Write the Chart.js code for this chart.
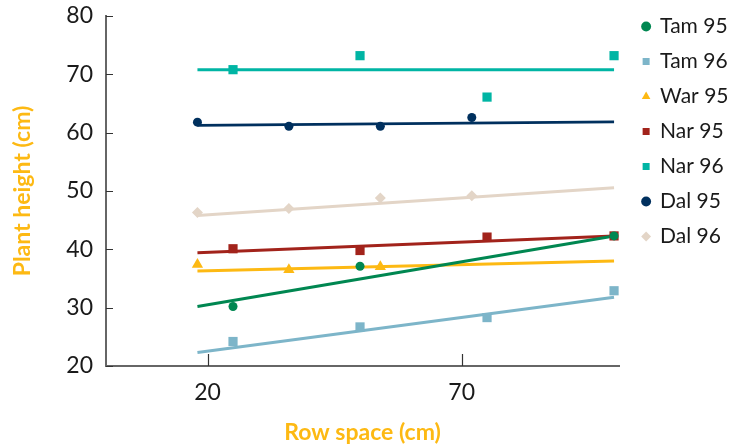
<!DOCTYPE html>
<html>
<head>
<meta charset="utf-8">
<script src="https://cdn.jsdelivr.net/npm/chart.js@4"></script>
<style>
  html, body { margin: 0; padding: 0; background: #fff; }
  #wrap { width: 744px; height: 446px; }
</style>
</head>
<body>
<div id="wrap"><canvas id="heightChart"></canvas></div>
<script>
// row spacing (cm) used by each group of trials
const rowSpaceA = [25, 50, 75, 100];   // Tam, Nar
const rowSpaceB = [18, 36, 54, 72];    // War, Dal

// plant height (cm)
const tam95 = [30.2, 37.1, null, 42.3];
const tam96 = [24.2, 26.7, 28.3, 32.9];
const war95 = [37.4, 36.5, 37.0, null];
const nar95 = [40.1, 39.8, 42.1, 42.3];
const nar96 = [70.8, 73.2, 66.1, 73.2];
const dal95 = [61.8, 61.1, 61.1, 62.6];
const dal96 = [46.3, 47.0, 48.8, 49.2];

// linear trend, value at start and end of trendX
const trendX = [18, 100];
const tam95Trend = [30.2, 42.3];
const tam96Trend = [22.3, 31.8];
const war95Trend = [36.3, 38.0];
const nar95Trend = [39.4, 42.3];
const nar96Trend = [70.8, 70.8];
const dal95Trend = [61.25, 61.85];
const dal96Trend = [45.8, 50.55];

const xTicks = [20, 70];
const yTicks = [20, 30, 40, 50, 60, 70, 80];

const FONT = 'Lato';
const TITLE_COLOR = '#fdb913';

const series = [
    { label: 'Tam 95', x: rowSpaceA, y: tam95, trend: tam95Trend, color: '#008751', style: 'circle', r: 4.5 },
    { label: 'Tam 96', x: rowSpaceA, y: tam96, trend: tam96Trend, color: '#7db5c9', style: 'rect', r: 6.5 },
    { label: 'War 95', x: rowSpaceB, y: war95, trend: war95Trend, color: '#fdb913', style: 'triangle', r: 6.5 },
    { label: 'Nar 95', x: rowSpaceA, y: nar95, trend: nar95Trend, color: '#a2231b', style: 'rect', r: 6.5 },
    { label: 'Nar 96', x: rowSpaceA, y: nar96, trend: nar96Trend, color: '#00b5a4', style: 'rect', r: 6.5 },
    { label: 'Dal 95', x: rowSpaceB, y: dal95, trend: dal95Trend, color: '#00305e', style: 'circle', r: 4.5 },
    { label: 'Dal 96', x: rowSpaceB, y: dal96, trend: dal96Trend, color: '#e3d5c7', style: 'rectRot', r: 5.5 }
];

const datasets = [];
series.forEach(s => {
    datasets.push({
        label: s.label,
        type: 'scatter',
        data: s.x.map((x, i) => ({ x: x, y: s.y[i] })).filter(p => p.y !== null),
        backgroundColor: s.color,
        borderColor: s.color,
        pointStyle: s.style,
        pointRadius: s.r,
        pointHoverRadius: s.r,
        borderWidth: 0,
        order: 0
    });
});
series.forEach(s => {
    datasets.push({
        label: s.label + ' trend',
        type: 'line',
        data: trendX.map((x, i) => ({ x: x, y: s.trend[i] })),
        borderColor: s.color,
        borderWidth: 3,
        pointRadius: 0,
        fill: false,
        order: 1
    });
});

// tick marks pointing into the plot
const innerTicks = {
    id: 'innerTicks',
    afterDraw(chart) {
        const ctx = chart.ctx;
        const xs = chart.scales.x, ys = chart.scales.y;
        const area = chart.chartArea;
        ctx.save();
        ctx.strokeStyle = '#333';
        ctx.lineWidth = 1.2;
        ctx.beginPath();
        xs.ticks.forEach(t => {
            const px = Math.round(xs.getPixelForValue(t.value)) + 0.5;
            ctx.moveTo(px, area.bottom);
            ctx.lineTo(px, area.bottom - 12);
        });
        ys.ticks.forEach(t => {
            const py = Math.round(ys.getPixelForValue(t.value)) + 0.5;
            ctx.moveTo(area.left, py);
            ctx.lineTo(area.left + 7, py);
        });
        ctx.stroke();
        ctx.restore();
    }
};

// nudge legend a bit further from the plot
const legendShift = {
    id: 'legendShift',
    afterLayout(chart) {
        chart.legend.left += 9.5;
        chart.legend.right += 9.5;
    }
};

new Chart(document.getElementById('heightChart'), {
    data: { datasets: datasets },
    plugins: [innerTicks, legendShift],
    options: {
        responsive: true,
        maintainAspectRatio: false,
        animation: false,
        layout: { padding: { top: 2, right: 15, bottom: 0, left: 0 } },
        plugins: {
            tooltip: { enabled: false },
            legend: {
                position: 'right',
                align: 'start',
                labels: {
                    usePointStyle: true,
                    boxWidth: 7,
                    boxHeight: 7,
                    padding: 14,
                    color: '#1a1a1a',
                    font: { family: FONT, size: 21 },
                    filter: item => !item.text.endsWith('trend')
                }
            }
        },
        scales: {
            x: {
                type: 'linear',
                min: 0,
                max: 101,
                afterBuildTicks: scale => { scale.ticks = xTicks.map(v => ({ value: v })); },
                afterFit: scale => { scale.height = 80; },
                grid: { display: true, drawOnChartArea: false, drawTicks: false },
                border: { display: true, color: '#666', width: 2 },
                ticks: {
                    padding: 13,
                    color: '#1a1a1a',
                    font: { family: FONT, size: 23 }
                },
                title: {
                    display: true,
                    text: 'Row space (cm)',
                    color: TITLE_COLOR,
                    font: { family: FONT, size: 23, weight: 'bold' },
                    padding: { top: 10, bottom: 0 }
                }
            },
            y: {
                min: 20,
                max: 80,
                afterBuildTicks: scale => { scale.ticks = yTicks.map(v => ({ value: v })); },
                afterFit: scale => { scale.width = 106; scale.paddingTop = 16; },
                grid: { display: true, drawOnChartArea: false, drawTicks: false },
                border: { display: true, color: '#666', width: 2 },
                ticks: {
                    padding: 13,
                    color: '#1a1a1a',
                    font: { family: FONT, size: 23 }
                },
                title: {
                    display: true,
                    text: 'Plant height (cm)',
                    color: TITLE_COLOR,
                    font: { family: FONT, size: 23, weight: 'bold' },
                    padding: { top: 9, bottom: 4 }
                }
            }
        }
    }
});
</script>
</body>
</html>
